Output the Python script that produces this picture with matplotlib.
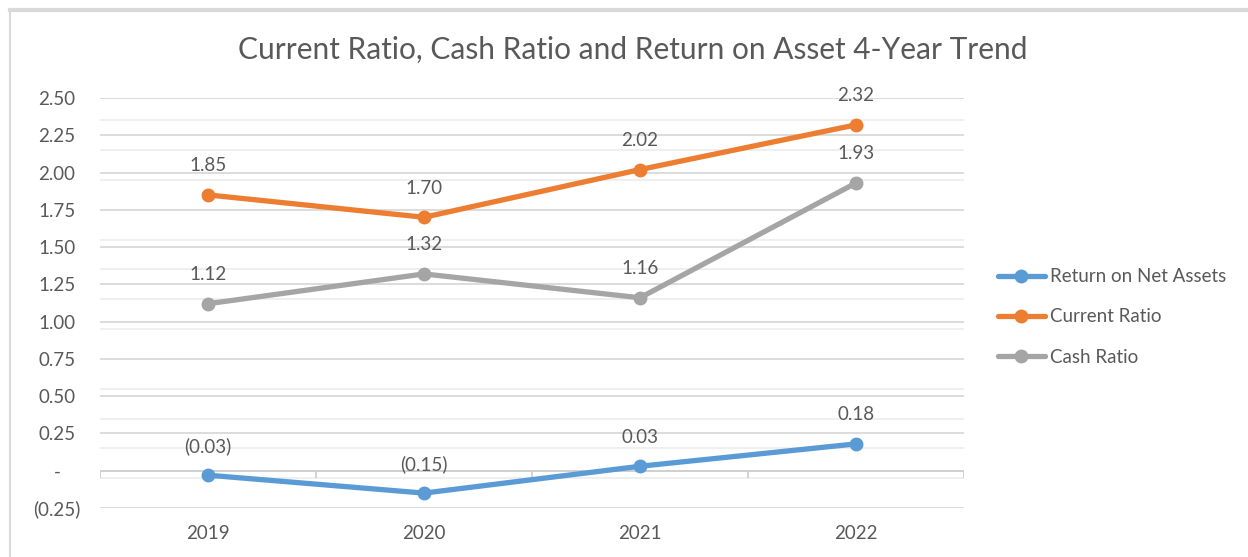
import matplotlib
matplotlib.use("Agg")
import matplotlib.pyplot as plt
import numpy as np
from matplotlib.lines import Line2D

years = ["2019", "2020", "2021", "2022"]
roa = [-0.03, -0.15, 0.03, 0.18]
current_ratio = [1.85, 1.70, 2.02, 2.32]
cash_ratio = [1.12, 1.32, 1.16, 1.93]
series_names = ["Return on Net Assets", "Current Ratio", "Cash Ratio"]
colors = ["#5B9BD5", "#ED7D31", "#A5A5A5"]
yticks = [-0.25, 0, 0.25, 0.5, 0.75, 1.0, 1.25, 1.5, 1.75, 2.0, 2.25, 2.5]

FONT = "Lato"
TXT = "#595959"
FS = 13.5
plt.rcParams['font.family'] = [FONT, 'DejaVu Sans']

def acct(v):
    if abs(v) < 1e-9:
        return "-"
    if v < 0:
        return "({:.2f})".format(-v)
    return "{:.2f}".format(v)

fig = plt.figure(figsize=(12.48, 5.57), dpi=100)
ax = fig.add_axes([100/1248, 1-508/557, 864/1248, 410/557])

x = np.arange(len(years))
for vals, name, c in zip([roa, current_ratio, cash_ratio], series_names, colors):
    ax.plot(x, vals, color=c, lw=3.8, marker='o', ms=9, label=name,
            solid_capstyle='round', zorder=3)
    for xi, v in zip(x, vals):
        ax.annotate(acct(v), (xi, v), xytext=(0, 21), textcoords='offset points',
                    ha='center', va='center', fontsize=FS, color=TXT, zorder=4)

ax.set_xlim(-0.5, len(years) - 0.5)
ax.set_ylim(-0.25, 2.5)
ax.set_yticks(yticks)
ax.set_yticklabels([acct(v) for v in yticks])
ax.set_yticks(np.arange(-0.05, 2.5, 0.2), minor=True)
ax.grid(axis='y', which='major', color='#d9d9d9', lw=1.3, zorder=1)
ax.grid(axis='y', which='minor', color='#ececec', lw=1.2, zorder=1)
ax.tick_params(axis='y', which='both', length=0, pad=31, labelsize=FS, labelcolor=TXT)
for lab in ax.get_yticklabels():
    lab.set_horizontalalignment('center')
ax.set_xticks(x)
ax.set_xticklabels(years)
ax.tick_params(axis='x', length=0, pad=12, labelsize=FS, labelcolor=TXT)
for s in ax.spines.values():
    s.set_visible(False)

# category axis at zero with tick marks at boundaries
ax.axhline(0, color='#cfcfcf', lw=1.3, zorder=2)
ax.vlines(np.arange(-0.5, len(years), 1.0), -0.05, 0, color='#cfcfcf', lw=1.3, zorder=2)

fig.text(633/1248, 1-50/557, "Current Ratio, Cash Ratio and Return on Asset 4-Year Trend",
         fontsize=21.5, color=TXT, ha='center', va='center')

leg = ax.legend(loc='center left', bbox_to_anchor=(998/1248, 1-317/557),
                bbox_transform=fig.transFigure, frameon=False, fontsize=FS,
                handlelength=2.5, handletextpad=0.25, labelspacing=1.24,
                borderpad=0, borderaxespad=0)
for t in leg.get_texts():
    t.set_color(TXT)

# outer chart border
fig.add_artist(Line2D([10/1248, 1], [1-10/557, 1-10/557], transform=fig.transFigure,
                      color='#d9d9d9', lw=3))
fig.add_artist(Line2D([10/1248, 10/1248], [0, 1-10/557], transform=fig.transFigure,
                      color='#d9d9d9', lw=1.5))

fig.savefig("out.png", dpi=100)
